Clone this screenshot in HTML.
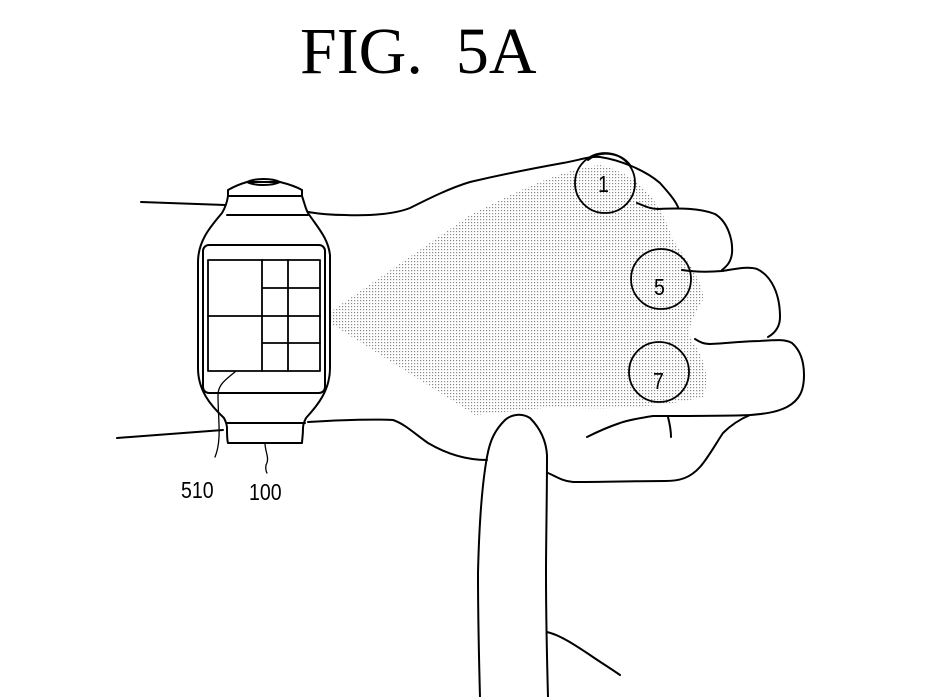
<!DOCTYPE html>
<html><head><style>
html,body{margin:0;padding:0;background:#fff;}
svg{display:block;}
</style></head><body>
<svg width="942" height="697" viewBox="0 0 942 697" xmlns="http://www.w3.org/2000/svg">
<defs>
<pattern id="dots" width="3" height="3" patternUnits="userSpaceOnUse">
<rect x="0" y="0" width="1.2" height="1.2" fill="#888"/>
</pattern>
</defs>
<text x="300" y="73" font-family="Liberation Serif, serif" font-size="66" fill="#000" xml:space="preserve">FIG.  5A</text>

<path d="M330,312 L470,215 C520,190 560,170 600,165 C640,175 660,200 673,240 C690,265 705,285 703,300 C690,320 685,335 695,345 C705,360 710,380 703,397 C660,408 600,410 553,407 L475,415 L330,323 Z" fill="url(#dots)"/>

<g fill="none" stroke="#000" stroke-width="2" stroke-linecap="round" stroke-linejoin="round">
<path d="M141,202 L225,205"/>
<path d="M308,212 C320,214 330,215 345,215 C370,216 395,214 410,208 C430,198 450,188 470,182 C500,175 535,168 563,163 C580,160 590,156 600,157 C620,160 645,170 660,183 C668,192 675,200 678,207"/>
<path d="M117,438 L223,430"/>
<path d="M308,422 C340,420 370,419 393,420 C405,424 415,434 428,443 C445,453 465,460 487,460"/>
<path d="M588,160 C600,150 620,152 630,165"/>
<path d="M637,203 C645,206 650,209 658,209 C680,208 700,208 715,214 C728,222 733,240 732,253 C731,262 727,266 722,270"/>
<path d="M682,270 C695,272 710,272 722,271 C735,269 748,266 757,269 C772,276 780,295 780,317 C780,327 775,333 768,337"/>
<path d="M695,339 C700,342 703,344 710,344 C730,343 745,341 760,341 C775,340 785,339 792,343 C800,350 804,360 804,375 C804,390 800,400 787,407 C775,413 762,414 750,415 C730,416 700,416 653,416 C640,418 628,420 620,423 C605,428 595,433 587,437"/>
<path d="M668,417 C670,425 671,430 671,437"/>
<path d="M750,415 C738,420 730,426 723,433 C715,445 708,458 700,467 C690,478 680,481 665,481 C640,481 600,482 573,482 C562,481 555,476 548,473"/>
<path d="M480,697 C479,660 478,620 478,573 C479,530 481,490 487,457 C490,440 495,430 505,420 C512,414 522,413 530,418 C540,428 546,440 547,455 C547,500 546,540 546,573 C546,620 547,660 548,697"/>
<path d="M547,632 C560,635 575,645 590,655 C600,662 610,668 620,675"/>
<circle cx="605" cy="183" r="30" stroke-width="1.8"/>
<circle cx="661" cy="279" r="30" stroke-width="1.8"/>
<circle cx="659" cy="372" r="30" stroke-width="1.8"/>

<path d="M228,190 C235,186 240,184 247,182 L280,182 C288,184 295,186 302,190 L302,196 C305,205 306,210 308,213 C318,228 328,238 330,255 L330,368 C330,390 318,405 306,418 C304,422 303,425 303,428 C303,436 302,440 302,443 L228,443 C227,440 227,436 227,428 C227,425 226,422 224,418 C210,405 198,390 198,368 L198,262 C198,240 212,225 222,213 C225,208 227,203 228,196 Z"/>
<path d="M247,182 C255,178 272,178 280,182 C272,186 255,186 247,182 Z"/>
<path d="M228,196 L302,196"/>
<path d="M227,215 L308,215"/>
<path d="M227,423 L305,423"/>
<rect x="203" y="245" width="122" height="148" rx="6"/>
<rect x="208" y="260" width="112" height="111" stroke-width="1.8"/>
<path d="M262,260 V371 M288,260 V371 M208,316 H262 M262,288 H320 M262,316 H320 M262,343 H320" stroke-width="1.8"/>
<path d="M235,372 C225,380 218,385 218,395 C218,420 222,440 215,457" stroke-width="1.3"/>
<path d="M265,443 C265,452 270,458 266,465 C265,470 267,473 267,473" stroke-width="1.3"/>
</g>
<g font-family="Liberation Sans, sans-serif" font-size="23" fill="#000">
<text x="0" y="0" transform="translate(181,498) scale(0.85,1)">510</text>
<text x="0" y="0" transform="translate(249,500) scale(0.85,1)">100</text>
<text x="0" y="0" transform="translate(598,192) scale(0.85,1)">1</text>
<text x="0" y="0" transform="translate(654,295) scale(0.85,1)">5</text>
<text x="0" y="0" transform="translate(653,389) scale(0.85,1)">7</text>
</g>
</svg>
</body></html>
